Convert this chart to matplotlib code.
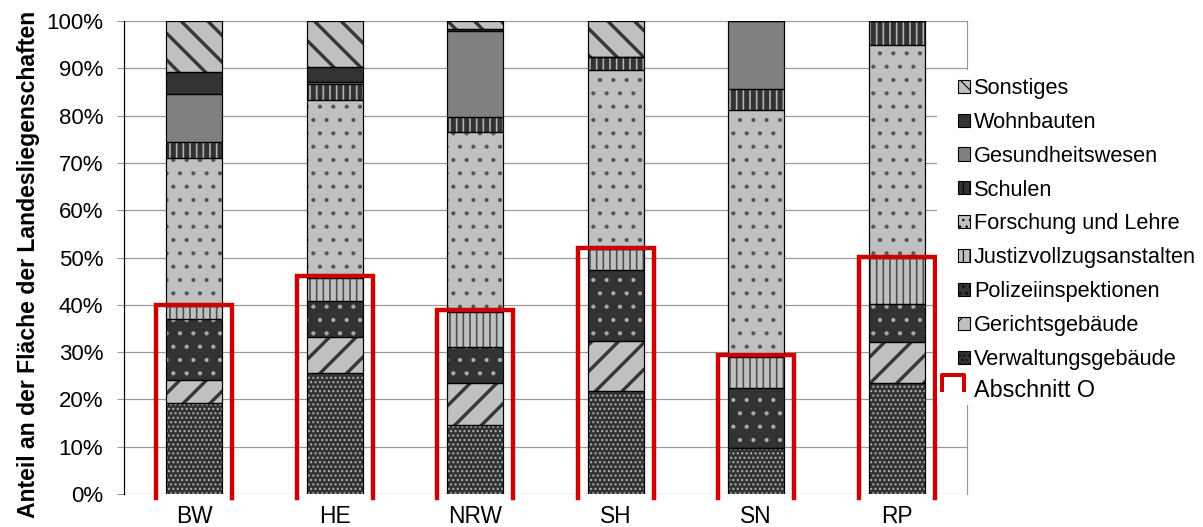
import numpy as np
import matplotlib
matplotlib.use('Agg')
import matplotlib.pyplot as plt
from matplotlib.patches import Patch, Rectangle
from matplotlib.lines import Line2D
from matplotlib.path import Path

plt.rcParams['font.family'] = ['Liberation Sans', 'DejaVu Sans']

# Anteile in Prozent, von unten nach oben gestapelt
laender = ['BW', 'HE', 'NRW', 'SH', 'SN', 'RP']
verwaltung = [19.2, 25.6, 14.6, 21.8, 9.7, 23.5]
gericht = [4.8, 7.5, 8.9, 10.5, 0.0, 8.7]
polizei = [12.9, 7.6, 7.5, 15.1, 12.8, 7.9]
justiz = [2.9, 4.9, 7.5, 4.3, 6.5, 9.7]
forschung = [31.3, 37.8, 38.0, 37.9, 52.2, 45.1]
schulen = [3.3, 3.3, 3.1, 2.7, 4.5, 5.1]
gesundheit = [10.2, 0.3, 18.3, 0.0, 14.3, 0.0]
wohnbauten = [4.6, 3.2, 0.5, 0.0, 0.0, 0.0]
sonstiges = [10.8, 9.8, 1.6, 7.7, 0.0, 0.0]
abschnitt_o = [40.0, 46.1, 39.0, 52.1, 29.4, 50.2]

LIGHT = '#c0c0c0'
DARK = '#333333'
MID = '#808080'

# label, values, face, hatch, hatch colour, hatch linewidth
series = [
    ('Verwaltungsgebäude', verwaltung, DARK, '...', '#b0b0b0', 1.2),
    ('Gerichtsgebäude', gericht, LIGHT, '/', '#353535', 3.0),
    ('Polizeiinspektionen', polizei, DARK, '.', '#a8a8a8', 1.4),
    ('Justizvollzugsanstalten', justiz, LIGHT, '||', '#505050', 1.5),
    ('Forschung und Lehre', forschung, LIGHT, '.', '#555555', 1.3),
    ('Schulen', schulen, DARK, '||', '#b0b0b0', 1.5),
    ('Gesundheitswesen', gesundheit, MID, '', MID, 1.0),
    ('Wohnbauten', wohnbauten, DARK, '', DARK, 1.0),
    ('Sonstiges', sonstiges, LIGHT, '\\', '#353535', 3.0),
]

W, H = 1203, 527
DPI = 80
fig = plt.figure(figsize=(W / DPI, H / DPI), dpi=DPI)
ax = fig.add_axes([124 / W, 1 - 494 / H, 843 / W, 473 / H])

x = np.arange(len(laender))
bottom = np.zeros(len(laender))
handles = []
for label, vals, fc, hatch, hc, hlw in series:
    vals = np.array(vals)
    with plt.rc_context({'hatch.linewidth': hlw}):
        bars = ax.bar(x, vals, 0.4, bottom=bottom, color=fc, edgecolor=hc,
                      hatch=hatch, linewidth=0, zorder=2)
        for b in bars:
            if hasattr(b, 'set_hatch_linewidth'):
                b.set_hatch_linewidth(hlw)
    with plt.rc_context({'hatch.linewidth': 1.0}):
        handles.append(Patch(facecolor=fc, hatch='..' if hatch == '.' else hatch,
                             edgecolor='black', linewidth=1.0, label=label))
    ax.bar(x, vals, 0.4, bottom=bottom, fill=False, edgecolor='black',
           linewidth=1.1, zorder=3)
    bottom += vals

# Abschnitt O Klammern
w = 0.27
for xi, top in zip(x, abschnitt_o):
    ax.plot([xi - w, xi - w, xi + w, xi + w], [-0.8, top, top, -0.8],
            color='#cc0000', lw=4.0, solid_joinstyle='miter',
            clip_on=False, zorder=4)

ax.set_xlim(-0.5, 5.5)
ax.set_ylim(0, 100)
ax.set_yticks(range(0, 101, 10))
ax.set_yticklabels([f'{v}%' for v in range(0, 101, 10)])
ax.set_xticks(x)
ax.set_xticklabels(laender)
ax.set_axisbelow(True)
ax.yaxis.grid(True, color='#999999', lw=1.1)
ax.tick_params(axis='y', length=6.25, color='#999999', width=1.0, pad=12.5,
               labelsize=20)
ax.tick_params(axis='x', length=0, pad=10, labelsize=20.5)
ax.spines['top'].set_visible(False)
ax.spines['bottom'].set_visible(False)
ax.spines['left'].set_color('black')
ax.spines['left'].set_linewidth(1.1)
ax.spines['right'].set_color('#999999')
ax.spines['right'].set_linewidth(1.1)

ax.set_ylabel('Anteil an der Fläche der Landesliegenschaften', fontsize=20.7,
              fontweight='bold')
ax.yaxis.set_label_coords(-0.1, 0.485)

# weisser Legendenhintergrund ueber dem Diagramm
fig.add_artist(Rectangle((937 / W, 1 - 405 / H), (W - 937) / W, 335 / H,
                         transform=fig.transFigure, facecolor='white',
                         edgecolor='none', zorder=1))

leg = fig.legend(handles=handles[::-1], loc='upper left',
                 bbox_to_anchor=(958 / W, 1 - 78 / H), frameon=False,
                 fontsize=19.6, handlelength=0.55, handleheight=0.55,
                 handletextpad=0.18, labelspacing=0.59, borderpad=0,
                 borderaxespad=0)

bracket = Path([(-1, -0.14), (-1, 0.64), (0, 0.64), (0, -0.14)],
               [Path.MOVETO, Path.LINETO, Path.LINETO, Path.LINETO])
h_o = Line2D([], [], linestyle='none', marker=bracket, markersize=39.6,
             markeredgewidth=3.6, markeredgecolor='#cc0000',
             markerfacecolor='none', label='Abschnitt O')
fig.legend(handles=[h_o], loc='upper left',
           bbox_to_anchor=(958 / W, 1 - 379 / H), frameon=False,
           fontsize=21, handlelength=0.52, handletextpad=0.17,
           borderpad=0, borderaxespad=0, numpoints=1)

fig.savefig('out.png', dpi=DPI)
